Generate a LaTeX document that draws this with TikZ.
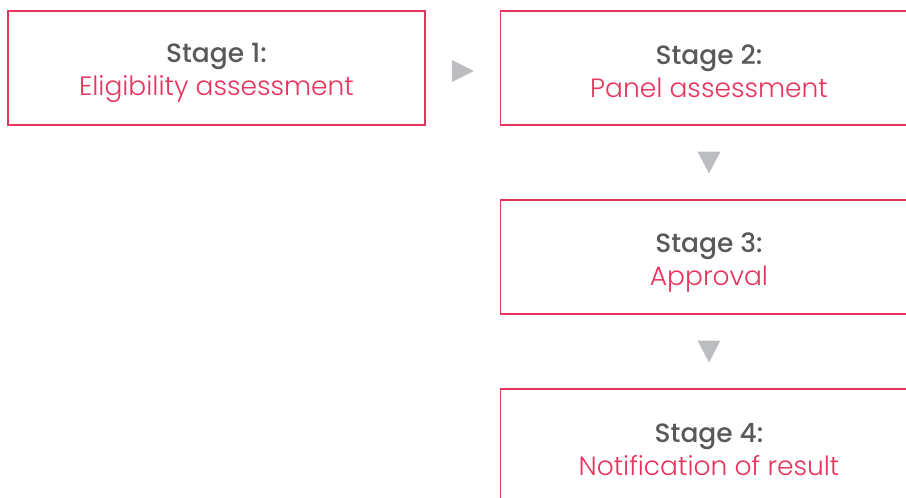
\documentclass[tikz,border=0pt]{standalone}
\usepackage{fontspec}
\setmainfont{Poppins}
\newfontfamily\lightfont{Poppins}[UprightFont={* Light}]
\newfontfamily\mediumfont{Poppins}[UprightFont={* Medium}]
\usetikzlibrary{calc}
\definecolor{stagered}{HTML}{E8335C}
\definecolor{stagegrey}{HTML}{58595B}
\definecolor{arrowgrey}{HTML}{BCBDC0}
\tikzset{
  stagebox/.style={draw=stagered, line width=1.1pt, minimum width=417pt, minimum height=114pt,
    inner sep=0pt, align=center, font=\fontsize{26.5}{33}\selectfont},
}
% struts keep both lines at the same height in every box
\newcommand{\stagetext}[2]{\rule{0pt}{30pt}{\mediumfont\color{stagegrey}#1}\\{\lightfont\color{stagered}#2}\rule[-5pt]{0pt}{5pt}}
\begin{document}
\begin{tikzpicture}[x=1pt,y=-1pt]
    \useasboundingbox (0,0) rectangle (906,498);
    \clip (0,0) rectangle (906,498);

    \node[stagebox] (s1) at (216.5,68) {\stagetext{Stage 1:}{Eligibility assessment}};
    \node[stagebox] (s2) at (709,68) {\stagetext{Stage 2:}{Panel assessment}};
    \node[stagebox] (s3) at (709,257) {\stagetext{Stage 3:}{Approval}};
    \node[stagebox] (s4) at (709,446) {\stagetext{Stage 4:}{Notification of result}};

    % grey pointers between the stages
    \coordinate (p12) at ($(s1.east)!0.5!(s2.west)+(0,3)$);
    \coordinate (p23) at ($(s2.south)!0.5!(s3.north)$);
    \coordinate (p34) at ($(s3.south)!0.5!(s4.north)$);
    \fill[arrowgrey] ($(p12)+(-11,-11)$) -- ($(p12)+(11,0)$) -- ($(p12)+(-11,11)$) -- cycle;
    \fill[arrowgrey] ($(p23)+(-11.5,-11)$) -- ($(p23)+(11.5,-11)$) -- ($(p23)+(0,11)$) -- cycle;
    \fill[arrowgrey] ($(p34)+(-11.5,-11)$) -- ($(p34)+(11.5,-11)$) -- ($(p34)+(0,11)$) -- cycle;
\end{tikzpicture}
\end{document}
